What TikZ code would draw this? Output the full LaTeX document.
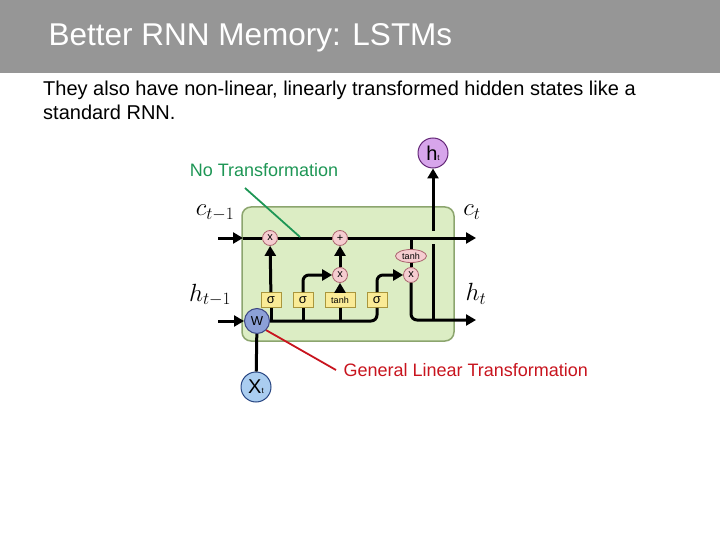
\documentclass[tikz,border=0pt]{standalone}
\usepackage{fontspec}
\setmainfont{Liberation Sans}
\usepackage{amsmath}
\usetikzlibrary{arrows.meta,shapes.geometric,positioning,calc}

\definecolor{barGray}{RGB}{150,150,150}
\definecolor{cellFill}{RGB}{220,237,196}
\definecolor{cellLine}{RGB}{140,165,110}
\definecolor{opFill}{RGB}{245,205,208}
\definecolor{opLine}{RGB}{170,100,110}
\definecolor{gateFill}{RGB}{250,235,150}
\definecolor{gateLine}{RGB}{170,150,60}
\definecolor{wFill}{RGB}{140,160,215}
\definecolor{wLine}{RGB}{60,70,130}
\definecolor{xFill}{RGB}{170,205,240}
\definecolor{xLine}{RGB}{40,70,130}
\definecolor{hFill}{RGB}{215,165,235}
\definecolor{hLine}{RGB}{100,40,120}
\definecolor{noteGreen}{RGB}{30,150,85}
\definecolor{noteRed}{RGB}{200,20,30}

\begin{document}
\begin{tikzpicture}[x=1pt, y=-1pt,
    cell/.style={draw=cellLine, fill=cellFill, line width=1.5pt, rounded corners=9pt, minimum width=212pt, minimum height=134pt},
    op/.style={circle, draw=opLine, fill=opFill, line width=0.8pt, minimum size=15pt, inner sep=0pt, font=\fontsize{11}{11}\selectfont},
    opwide/.style={ellipse, draw=opLine, fill=opFill, line width=0.8pt, minimum width=31pt, minimum height=13pt, inner sep=0pt, font=\fontsize{9}{9}\selectfont},
    gate/.style={draw=gateLine, fill=gateFill, line width=0.8pt, minimum width=20pt, minimum height=15pt, inner sep=0pt, font=\fontsize{13}{13}\selectfont},
    inout/.style={circle, line width=1pt, minimum size=30pt, inner sep=0pt},
    wire/.style={line width=3pt},
    arr/.style={-{Triangle[length=10pt,width=11pt]}, line width=3pt},
    mathlbl/.style={font=\fontsize{26}{26}\selectfont}
]
\useasboundingbox (0,0) rectangle (720,540);
\fill[barGray] (0,0) rectangle (720,73);
\node[anchor=west, text=white, font=\fontsize{31.5}{36}\selectfont] (title) at (45,38) {Better RNN Memory: LSTMs};
\node[anchor=north west, align=left, inner sep=0pt, font=\fontsize{20}{24}\selectfont] (body) at (43,81)
    {They also have non-linear, linearly transformed hidden states like a\\standard RNN.};

\node[cell] (cell) at (348,274) {};

\node[op] (mul1) at (270,238) {x};
\node[op] (add) at (340,238) {+};
\node[op] (mul2) at (340,275) {x};
\node[op] (mul3) at (411,275) {x};
\node[opwide] (tanhc) at (411,256) {tanh};
\node[gate] (sig1) at (271,300) {σ};
\node[gate] (sig2) at (303,300) {σ};
\node[gate, minimum width=30pt, font=\fontsize{9}{9}\selectfont] (tanhg) at (340,300) {tanh};
\node[gate] (sig3) at (377,300) {σ};
\node[inout, draw=wLine, fill=wFill, minimum size=25pt, font=\fontsize{13}{13}\selectfont] (w) at (257,321) {W};
\node[inout, draw=xLine, fill=xFill, font=\fontsize{20}{20}\selectfont] (xt) at (256,387) {X{\fontsize{8}{8}\selectfont t}};
\node[inout, draw=hLine, fill=hFill, font=\fontsize{20}{20}\selectfont] (ht) at (433,153) {h{\fontsize{8}{8}\selectfont t}};

\node[mathlbl] (cprev) at (215,213) {$c_{t-1}$};
\node[mathlbl] (hprev) at (210,295) {$h_{t-1}$};
\node[mathlbl] (cnext) at (472,212) {$c_t$};
\node[mathlbl] (hnext) at (476,294) {$h_t$};

\node[text=noteGreen, font=\fontsize{18}{18}\selectfont] (notrans) at (264,170) {No Transformation};
\node[anchor=west, text=noteRed, font=\fontsize{18}{18}\selectfont] (gentrans) at (340,370) {General Linear Transformation};

\coordinate (cin) at (218,238);
\coordinate (cedge) at (243,238);
\coordinate (cout) at (476,238);
\coordinate (ctap) at (411,238);
\coordinate (hin) at (218,321);
\coordinate (hout) at (476,320);
\coordinate (hjoin) at (433,320);
\coordinate (hlow) at (433,244);
\coordinate (hhigh) at (433,231);
\coordinate (ntstart) at (245,188);
\coordinate (ntend) at (300,237);

\draw[arr] (cin) -- (cedge);
\draw[wire] (cedge) -- (mul1);
\draw[wire] (mul1) -- (add);
\draw[arr] (add) -- (cout);
\draw[wire] (ctap) -- (tanhc);
\draw[wire] (tanhc) -- (mul3);

\draw[arr] (sig1) -- (mul1);
\draw[arr, rounded corners=6pt] (sig2.north) |- (mul2);
\draw[arr] (tanhg) -- (mul2);
\draw[arr] (mul2) -- (add);
\draw[arr, rounded corners=6pt] (sig3.north) |- (mul3);

\draw[arr] (hin) -- (w);
\draw[wire, rounded corners=6pt] (w) -| (sig3.south);
\draw[wire] (sig1.south) -- (sig1.south |- w);
\draw[wire] (sig2.south) -- (sig2.south |- w);
\draw[wire] (tanhg.south) -- (tanhg.south |- w);
\draw[wire] (xt) -- (w);

\draw[arr, rounded corners=6pt] (mul3) |- (hout);
\draw[wire] (hlow) -- (hjoin);
\draw[arr] (hhigh) -- (ht);

\draw[noteGreen, line width=1.8pt] (ntstart) -- (ntend);
\draw[noteRed, line width=1.8pt] (w.south east) -- ([xshift=-4pt]gentrans.west);
\end{tikzpicture}
\end{document}
